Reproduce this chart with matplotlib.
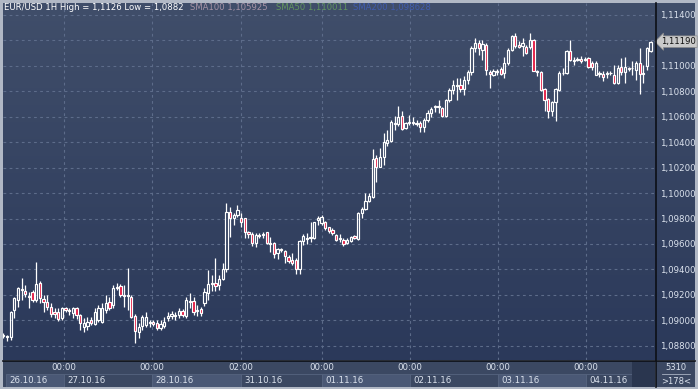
import numpy as np
import matplotlib
matplotlib.use("Agg")
import matplotlib.pyplot as plt
from matplotlib.lines import Line2D

# ---------------- data (EUR/USD, 1H candles) ----------------
opens = [
    1.08877, 1.08869, 1.08869, 1.09081, 1.09160, 1.09247, 1.09231, 1.09191, 1.09223, 1.09160,
    1.09294, 1.09168, 1.09144, 1.09105, 1.09066, 1.09066, 1.09019, 1.09097, 1.09081, 1.09058,
    1.09097, 1.09042, 1.08948, 1.08956, 1.09003, 1.08971, 1.09003, 1.08987, 1.09081, 1.09144,
    1.09121, 1.09254, 1.09270, 1.09199, 1.09191, 1.09184, 1.09034, 1.08908, 1.08956, 1.08964,
    1.08979, 1.08987, 1.08979, 1.08940, 1.08956, 1.09019, 1.09034, 1.09034, 1.09042, 1.09074,
    1.09034, 1.09152, 1.09152, 1.09074, 1.09089, 1.09136, 1.09215, 1.09286, 1.09294, 1.09278,
    1.09325, 1.09404, 1.09852, 1.09805, 1.09828, 1.09805, 1.09805, 1.09695, 1.09679, 1.09608,
    1.09671, 1.09671, 1.09695, 1.09608, 1.09608, 1.09529, 1.09561, 1.09545, 1.09498, 1.09474,
    1.09474, 1.09404, 1.09624, 1.09647, 1.09647, 1.09647, 1.09789, 1.09765, 1.09773, 1.09734,
    1.09710, 1.09671, 1.09640, 1.09632, 1.09608, 1.09624, 1.09663, 1.09640, 1.09844, 1.09875,
    1.09938, 1.09970, 1.10276, 1.10205, 1.10284, 1.10394, 1.10410, 1.10551, 1.10543, 1.10606,
    1.10512, 1.10551, 1.10559, 1.10551, 1.10551, 1.10520, 1.10575, 1.10630, 1.10677, 1.10677,
    1.10669, 1.10606, 1.10732, 1.10811, 1.10842, 1.10850, 1.10818, 1.10889, 1.10952, 1.11141,
    1.11180, 1.11125, 1.11164, 1.10952, 1.10928, 1.10960, 1.10976, 1.10944, 1.11023, 1.11125,
    1.11235, 1.11164, 1.11156, 1.11149, 1.11149, 1.11204, 1.10960, 1.10952, 1.10818, 1.10740,
    1.10645, 1.10716, 1.10811, 1.10940, 1.10944, 1.11117, 1.11046, 1.11054, 1.11054, 1.11046,
    1.11062, 1.11023, 1.10928, 1.10944, 1.10936, 1.10936, 1.10944, 1.10928, 1.10866, 1.10991,
    1.10952, 1.10984, 1.10984, 1.10968, 1.11023, 1.10936, 1.10999, 1.11117,
]
highs = [
    1.08901, 1.08885, 1.09074, 1.09184, 1.09262, 1.09333, 1.09278, 1.09223, 1.09239, 1.09459,
    1.09309, 1.09199, 1.09199, 1.09136, 1.09097, 1.09097, 1.09105, 1.09105, 1.09097, 1.09105,
    1.09105, 1.09050, 1.09019, 1.09026, 1.09026, 1.09097, 1.09121, 1.09136, 1.09199, 1.09184,
    1.09278, 1.09294, 1.09286, 1.09278, 1.09412, 1.09199, 1.09050, 1.08979, 1.09042, 1.09066,
    1.09003, 1.09003, 1.09003, 1.09003, 1.09026, 1.09066, 1.09074, 1.09066, 1.09097, 1.09089,
    1.09184, 1.09215, 1.09184, 1.09121, 1.09105, 1.09254, 1.09396, 1.09357, 1.09490, 1.09357,
    1.09451, 1.09922, 1.09891, 1.09844, 1.09907, 1.09844, 1.09805, 1.09702, 1.09695, 1.09687,
    1.09687, 1.09695, 1.09695, 1.09655, 1.09616, 1.09569, 1.09569, 1.09553, 1.09514, 1.09529,
    1.09490, 1.09632, 1.09679, 1.09687, 1.09773, 1.09773, 1.09820, 1.09828, 1.09781, 1.09734,
    1.09726, 1.09679, 1.09679, 1.09647, 1.09647, 1.09663, 1.09671, 1.09852, 1.09891, 1.10001,
    1.10001, 1.10347, 1.10300, 1.10355, 1.10473, 1.10496, 1.10575, 1.10606, 1.10685, 1.10645,
    1.10559, 1.10614, 1.10598, 1.10575, 1.10567, 1.10590, 1.10653, 1.10677, 1.10693, 1.10732,
    1.10677, 1.10740, 1.10826, 1.10889, 1.10905, 1.10905, 1.10921, 1.10968, 1.11156, 1.11219,
    1.11204, 1.11204, 1.11180, 1.10968, 1.10976, 1.10976, 1.10991, 1.11070, 1.11141, 1.11243,
    1.11259, 1.11196, 1.11219, 1.11164, 1.11259, 1.11211, 1.10968, 1.10960, 1.10826, 1.10748,
    1.10724, 1.10826, 1.10960, 1.10984, 1.11125, 1.11204, 1.11070, 1.11070, 1.11078, 1.11070,
    1.11070, 1.11038, 1.11038, 1.10960, 1.10960, 1.10960, 1.10960, 1.11007, 1.11007, 1.11062,
    1.11070, 1.10991, 1.11038, 1.11038, 1.11141, 1.11007, 1.11149, 1.11196,
]
lows = [
    1.08861, 1.08838, 1.08846, 1.09019, 1.09105, 1.09160, 1.09184, 1.09097, 1.09144, 1.09144,
    1.09136, 1.09066, 1.09081, 1.09026, 1.09019, 1.08995, 1.09003, 1.09066, 1.09042, 1.09019,
    1.09011, 1.08924, 1.08908, 1.08924, 1.08964, 1.08964, 1.08987, 1.08979, 1.09058, 1.09081,
    1.09097, 1.09239, 1.09184, 1.09105, 1.09081, 1.09019, 1.08822, 1.08861, 1.08924, 1.08948,
    1.08948, 1.08956, 1.08924, 1.08924, 1.08940, 1.08995, 1.09011, 1.09003, 1.09019, 1.09026,
    1.09019, 1.09097, 1.09042, 1.09034, 1.09034, 1.09113, 1.09160, 1.09231, 1.09231, 1.09239,
    1.09317, 1.09380, 1.09655, 1.09750, 1.09812, 1.09734, 1.09647, 1.09647, 1.09584, 1.09577,
    1.09647, 1.09647, 1.09600, 1.09537, 1.09490, 1.09482, 1.09537, 1.09451, 1.09451, 1.09435,
    1.09364, 1.09364, 1.09592, 1.09600, 1.09616, 1.09640, 1.09750, 1.09750, 1.09710, 1.09687,
    1.09671, 1.09624, 1.09616, 1.09584, 1.09600, 1.09616, 1.09640, 1.09632, 1.09805, 1.09867,
    1.09930, 1.09962, 1.10087, 1.10205, 1.10221, 1.10370, 1.10402, 1.10496, 1.10528, 1.10496,
    1.10504, 1.10535, 1.10535, 1.10528, 1.10480, 1.10480, 1.10559, 1.10598, 1.10638, 1.10630,
    1.10598, 1.10598, 1.10716, 1.10779, 1.10732, 1.10795, 1.10771, 1.10858, 1.10928, 1.11109,
    1.11086, 1.11046, 1.10928, 1.10826, 1.10921, 1.10928, 1.10928, 1.10905, 1.11007, 1.11117,
    1.11141, 1.11141, 1.11078, 1.11094, 1.11133, 1.10960, 1.10921, 1.10803, 1.10645, 1.10590,
    1.10606, 1.10567, 1.10803, 1.10928, 1.10936, 1.11038, 1.11007, 1.11038, 1.11023, 1.11038,
    1.10984, 1.10968, 1.10928, 1.10913, 1.10881, 1.10905, 1.10928, 1.10858, 1.10858, 1.10928,
    1.10866, 1.10960, 1.10928, 1.10889, 1.10779, 1.10866, 1.10968, 1.11109,
]
closes = [
    1.08885, 1.08877, 1.09066, 1.09176, 1.09254, 1.09239, 1.09207, 1.09184, 1.09160, 1.09286,
    1.09176, 1.09144, 1.09105, 1.09050, 1.09050, 1.09011, 1.09097, 1.09081, 1.09074, 1.09097,
    1.09042, 1.08979, 1.08979, 1.08987, 1.08979, 1.09066, 1.09097, 1.09097, 1.09136, 1.09097,
    1.09254, 1.09262, 1.09199, 1.09191, 1.09199, 1.09026, 1.08916, 1.08948, 1.09026, 1.09026,
    1.08987, 1.08971, 1.08940, 1.08971, 1.08987, 1.09034, 1.09050, 1.09042, 1.09074, 1.09042,
    1.09160, 1.09144, 1.09066, 1.09081, 1.09058, 1.09223, 1.09286, 1.09294, 1.09270, 1.09325,
    1.09404, 1.09852, 1.09805, 1.09828, 1.09867, 1.09773, 1.09695, 1.09679, 1.09608, 1.09671,
    1.09663, 1.09679, 1.09608, 1.09600, 1.09522, 1.09561, 1.09553, 1.09506, 1.09466, 1.09451,
    1.09404, 1.09624, 1.09663, 1.09640, 1.09655, 1.09773, 1.09805, 1.09812, 1.09726, 1.09702,
    1.09687, 1.09632, 1.09647, 1.09600, 1.09632, 1.09655, 1.09647, 1.09844, 1.09875, 1.09938,
    1.09977, 1.10268, 1.10205, 1.10284, 1.10402, 1.10418, 1.10559, 1.10543, 1.10598, 1.10504,
    1.10551, 1.10559, 1.10551, 1.10543, 1.10520, 1.10575, 1.10630, 1.10661, 1.10685, 1.10685,
    1.10606, 1.10732, 1.10811, 1.10850, 1.10848, 1.10818, 1.10889, 1.10952, 1.11141, 1.11180,
    1.11141, 1.11172, 1.10968, 1.10936, 1.10960, 1.10952, 1.10936, 1.11023, 1.11125, 1.11235,
    1.11156, 1.11149, 1.11180, 1.11101, 1.11204, 1.10960, 1.10952, 1.10811, 1.10732, 1.10645,
    1.10716, 1.10818, 1.10944, 1.10946, 1.11117, 1.11046, 1.11040, 1.11046, 1.11038, 1.11050,
    1.10991, 1.10991, 1.11023, 1.10936, 1.10913, 1.10940, 1.10940, 1.10866, 1.10984, 1.10952,
    1.10991, 1.10976, 1.10980, 1.11023, 1.10936, 1.10940, 1.11141, 1.11190,
]

price_ticks = [1.088, 1.090, 1.092, 1.094, 1.096, 1.098, 1.100, 1.102,
               1.104, 1.106, 1.108, 1.110, 1.112, 1.114]
day_break_bars = [16.6, 40.6, 65.0, 87.1, 111.2, 135.3, 159.3]
time_labels = ["00:00", "00:00", "02:00", "00:00", "00:00", "00:00", "00:00"]
date_labels = ["26.10.16", "27.10.16", "28.10.16", "31.10.16",
               "01.11.16", "02.11.16", "03.11.16", "04.11.16"]
title = "EUR/USD 1H High = 1,1126 Low = 1,0882"
sma_labels = ["SMA100 1,105925", "SMA50 1,110011", "SMA200 1,098628"]
last_price = 1.11190
volume_text = "5310"
bars_text = ">178<"

# ---------------- styling ----------------
W, H = 698, 389
BG_TOP = np.array([64, 78, 106]) / 255
BG_BOT = np.array([43, 57, 90]) / 255
BORDER = "#b1b8c5"
PANEL = "#3b4862"
GRID = "#5d6c8a"
TXT = "#dce3ee"
RED = "#e3163f"
SMA_COLORS = ["#a593a6", "#62955f", "#3f5cae"]
FONT = "DejaVu Sans"


def frac(x0, y0, x1, y1):
    return [x0 / W, 1 - y1 / H, (x1 - x0) / W, (y1 - y0) / H]


fig = plt.figure(figsize=(W / 100, H / 100), dpi=100, facecolor=BORDER)

# gradient background for price area + right scale
bg = fig.add_axes(frac(3, 3, 695, 360))
t = np.linspace(0, 1, 256)[:, None, None]
grad = BG_TOP[None, None, :] * (1 - t) + BG_BOT[None, None, :] * t
bg.imshow(grad, aspect="auto", extent=[0, 1, 0, 1], interpolation="bilinear")
bg.set_axis_off()

ax = fig.add_axes(frac(3, 3, 655, 360))
ax.set_facecolor("none")
n = len(opens)
x = np.arange(n)
o = np.array(opens); h = np.array(highs); l = np.array(lows); c = np.array(closes)
ax.set_xlim(-0.1, 178.2)
ax.set_ylim(1.08688, 1.11494)

# grid
ax.set_xticks(day_break_bars)
ax.set_yticks(price_ticks)
ax.grid(True, color=GRID, linestyle=(0, (2.5, 3)), linewidth=0.8)
ax.set_axisbelow(True)
ax.tick_params(axis="x", length=0, labelbottom=False)
ax.yaxis.tick_right()
lbls = []
for v in price_ticks:
    s = f"{v:.5f}".replace(".", ",")
    lbls.append("" if abs(v - last_price) < 0.0012 else s)
ax.set_yticklabels(lbls)
ax.tick_params(axis="y", length=0, pad=3.5, labelsize=6.2, labelcolor=TXT)
for sp in ax.spines.values():
    sp.set_visible(False)

# candles
top = np.maximum(o, c)
bot = np.minimum(o, c)
ax.vlines(x, top, h, color="white", linewidth=0.9, zorder=3)
ax.vlines(x, l, bot, color="white", linewidth=0.9, zorder=3)
faces = [RED if cc < oo else "none" for oo, cc in zip(o, c)]
ax.bar(x, np.maximum(top - bot, 0.00002), bottom=bot, width=0.62,
       color=faces, edgecolor="white", linewidth=0.85, zorder=4)

# current price marker
ax.annotate(f"{last_price:.5f}".replace(".", ","), xy=(1.0, last_price),
            xycoords=("axes fraction", "data"), xytext=(6, 0),
            textcoords="offset pixels", ha="left", va="center",
            fontsize=6.1, color="#111111", family=FONT, annotation_clip=False,
            bbox=dict(boxstyle="larrow,pad=0.15", fc="#cacaca", ec="#8c8c8c", lw=0.5),
            zorder=10)

# title + SMA labels
fig.text(4 / W, 1 - 7.5 / H, title, fontsize=6.1, color="white", va="center", family=FONT)
for lab, col, px in zip(sma_labels, SMA_COLORS, [190, 276, 353]):
    fig.text(px / W, 1 - 7.5 / H, lab, fontsize=6.1, color=col, va="center", family=FONT)

# bottom time panel
axb = fig.add_axes(frac(3, 361, 655, 387))
axb.set_xlim(ax.get_xlim())
axb.set_ylim(0, 1)
axb.set_axis_off()
axb.add_patch(plt.Rectangle((0, 0), 1, 1, transform=axb.transAxes, fc=PANEL, ec="none", zorder=0))
bounds = [0.72] + day_break_bars + [171.9]
for i in range(len(date_labels)):
    x0, x1 = bounds[i], bounds[i + 1]
    fc = "#4a5875" if i % 2 == 0 else PANEL
    axb.add_patch(plt.Rectangle((x0, 0.0), x1 - x0, 0.5, fc=fc, ec="#56647f", lw=0.6, zorder=1))
    axb.text(x0 + 0.9, 0.24, date_labels[i], fontsize=6.2, color=TXT, va="center",
             ha="left", family=FONT, zorder=2)
axb.add_patch(plt.Rectangle((171.9, 0.0), 178.2 - 171.9, 1.0, fc="#2a364f", ec="none", zorder=1))
for db, tl in zip(day_break_bars, time_labels):
    axb.text(db, 0.74, tl, fontsize=6.2, color=TXT, ha="center", va="center", family=FONT, zorder=2)

# bottom-right corner panel
axc = fig.add_axes(frac(656, 361, 695, 387))
axc.set_xlim(0, 1); axc.set_ylim(0, 1); axc.set_axis_off()
axc.add_patch(plt.Rectangle((0, 0), 1, 1, fc=PANEL, ec="none"))
axc.text(0.52, 0.76, volume_text, fontsize=6, color=TXT, ha="center", va="center", family=FONT)
axc.text(0.52, 0.22, bars_text, fontsize=6, color=TXT, ha="center", va="center", family=FONT)
axc.add_line(Line2D([0.15, 0.88], [0.49, 0.49], color="#aab3c3", lw=0.6))

# dark separators
fig.add_artist(Line2D([655.5 / W, 655.5 / W], [1 - 3 / H, 1 - 387 / H], color="#0c0f16", lw=1.2))
fig.add_artist(Line2D([3 / W, 695 / W], [1 - 360.5 / H, 1 - 360.5 / H], color="#0c0f16", lw=1.2))

fig.savefig("out.png", dpi=100, facecolor=BORDER)
